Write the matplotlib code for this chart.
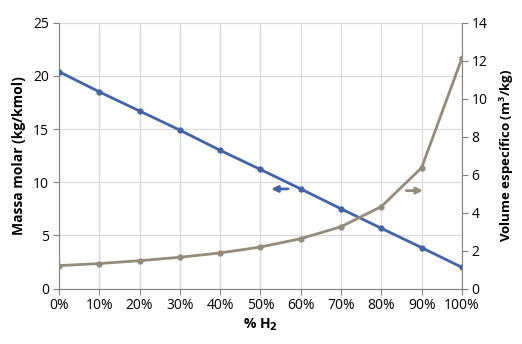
import numpy as np
import matplotlib.pyplot as plt

plt.rcParams['font.family'] = ['Open Sans', 'DejaVu Sans']

h2_pct = [0, 10, 20, 30, 40, 50, 60, 70, 80, 90, 100]
massa_molar = [20.4, 18.5, 16.7, 14.9, 13.0, 11.2, 9.37, 7.5, 5.67, 3.85, 2.0]
vol_especifico = [1.21, 1.32, 1.47, 1.65, 1.88, 2.19, 2.63, 3.26, 4.32, 6.37, 12.14]
x_labels = ['%d%%' % v for v in h2_pct]

blue = '#4163AA'
gray = '#948C7A'

fig = plt.figure(figsize=(5.22, 3.44), dpi=100)
ax = fig.add_axes([0.113, 0.161, 0.772, 0.773])
ax2 = ax.twinx()

ax.plot(h2_pct, massa_molar, color=blue, lw=2, marker='o', ms=3.5, zorder=3)
ax2.plot(h2_pct, vol_especifico, color=gray, lw=2, marker='o', ms=3.5, zorder=3)

ax.set_xlim(0, 100)
ax.set_ylim(0, 25)
ax2.set_ylim(0, 14)
ax.set_xticks(h2_pct)
ax.set_xticklabels(x_labels)
ax.set_yticks(np.arange(0, 26, 5))
ax2.set_yticks(np.arange(0, 15, 2))

ax.grid(True, color='#d9d9d9', lw=0.9)
ax.set_axisbelow(True)

for a in (ax, ax2):
    for s in a.spines.values():
        s.set_visible(False)
    a.tick_params(labelsize=10, length=4, color='#808080', pad=3)
ax.spines['left'].set_visible(True)
ax.spines['bottom'].set_visible(True)
ax2.spines['right'].set_visible(True)
ax.spines['left'].set_color('#808080')
ax.spines['bottom'].set_color('#808080')
ax2.spines['right'].set_color('#808080')

ax.set_xlabel('% H$_\\mathbf{2}$', fontsize=10, fontweight='bold', labelpad=2)
ax.set_ylabel('Massa molar (kg/kmol)', fontsize=10, fontweight='bold', labelpad=5)
ax2.set_ylabel('Volume específico (m$^\\mathregular{3}$/kg)', fontsize=9.5,
               fontweight='bold', labelpad=7)

ax.annotate('', xy=(52, 9.37), xytext=(57.5, 9.37),
            arrowprops=dict(arrowstyle='-|>', color=blue, lw=2, mutation_scale=9))
ax2.annotate('', xy=(91, 5.16), xytext=(85.5, 5.16),
             arrowprops=dict(arrowstyle='-|>', color=gray, lw=2, mutation_scale=9))

fig.savefig('out.png', dpi=100)
